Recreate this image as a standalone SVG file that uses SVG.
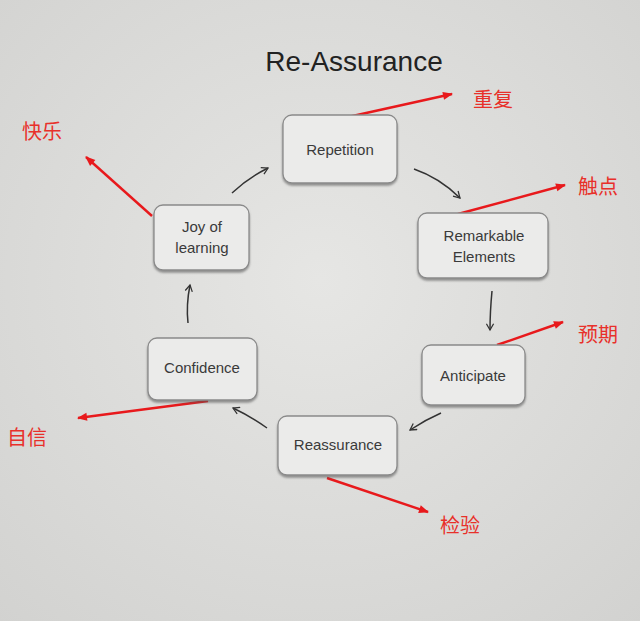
<svg xmlns="http://www.w3.org/2000/svg" width="640" height="621" viewBox="0 0 640 621">
<defs>
<radialGradient id="bg" cx="0.5" cy="0.45" r="0.75">
<stop offset="0" stop-color="#e6e6e4"/>
<stop offset="1" stop-color="#d2d2d0"/>
</radialGradient>
<marker id="ah" viewBox="0 0 10 10" refX="8" refY="5" markerWidth="9" markerHeight="9" orient="auto" markerUnits="userSpaceOnUse">
<path d="M1,1 L8,5 L1,9" fill="none" stroke="#333" stroke-width="1.4"/>
</marker>
<marker id="rh" viewBox="0 0 10 10" refX="9" refY="5" markerWidth="14" markerHeight="10" orient="auto" markerUnits="userSpaceOnUse">
<path d="M0,1 L10,5 L0,9 Z" fill="#e8191c"/>
</marker>
<filter id="sh" x="-10%" y="-10%" width="120%" height="130%">
<feDropShadow dx="0" dy="2" stdDeviation="1.2" flood-color="#555" flood-opacity="0.6"/>
</filter>
</defs>
<style>
.box{fill:#ebebea;stroke:#8a8a8a;stroke-width:1.3;filter:url(#sh)}
.lbl{font-family:"Liberation Sans","DejaVu Sans",sans-serif;font-size:15px;fill:#3a3a3a;text-anchor:middle}
.title{font-family:"Liberation Sans","DejaVu Sans",sans-serif;font-size:28px;fill:#222;text-anchor:middle}
.cn{font-family:"Noto Sans CJK SC",sans-serif;font-size:20px;fill:#e8302a}
.conn{fill:none;stroke:#333;stroke-width:1.5;marker-end:url(#ah)}
.red{fill:none;stroke:#e8191c;stroke-width:2.4;marker-end:url(#rh)}
</style>
<rect width="640" height="621" fill="url(#bg)"/>
<text class="title" x="354" y="71">Re-Assurance</text>
<g id="connectors">
<path class="conn" d="M232,193 Q248,178 268,168"/>
<path class="conn" d="M414,169 Q440,178 460,198"/>
<path class="conn" d="M492,291 Q490,312 490,330"/>
<path class="conn" d="M441,413 Q425,420 410,430"/>
<path class="conn" d="M267,428 Q250,416 233,408"/>
<path class="conn" d="M188,323 Q186,305 190,285"/>
<path class="red" d="M348,117 L452,94"/>
<path class="red" d="M458,214 L565,185"/>
<path class="red" d="M497,345 L563,322"/>
<path class="red" d="M327,478 L428,512"/>
<path class="red" d="M208,401 L78,418"/>
<path class="red" d="M152,216 L86,157"/>
</g>
<g id="repetition">
<rect class="box" x="283" y="115" width="114" height="68" rx="9"/>
<text class="lbl" x="340" y="155">Repetition</text>
</g>
<g id="remarkable">
<rect class="box" x="418" y="213" width="130" height="65" rx="9"/>
<text class="lbl" x="484" y="241">Remarkable</text>
<text class="lbl" x="484" y="262">Elements</text>
</g>
<g id="anticipate">
<rect class="box" x="422" y="345" width="103" height="60" rx="9"/>
<text class="lbl" x="473" y="381">Anticipate</text>
</g>
<g id="reassurance">
<rect class="box" x="278" y="416" width="119" height="59" rx="9"/>
<text class="lbl" x="338" y="450">Reassurance</text>
</g>
<g id="confidence">
<rect class="box" x="148" y="338" width="109" height="62" rx="9"/>
<text class="lbl" x="202" y="373">Confidence</text>
</g>
<g id="joy">
<rect class="box" x="154" y="205" width="95" height="65" rx="9"/>
<text class="lbl" x="202" y="232">Joy of</text>
<text class="lbl" x="202" y="253">learning</text>
</g>
<g id="cn-labels">
<text class="cn" x="473" y="107">重复</text>
<text class="cn" x="578" y="194">触点</text>
<text class="cn" x="578" y="342">预期</text>
<text class="cn" x="440" y="533">检验</text>
<text class="cn" x="7" y="445">自信</text>
<text class="cn" x="22" y="139">快乐</text>
</g>
</svg>
